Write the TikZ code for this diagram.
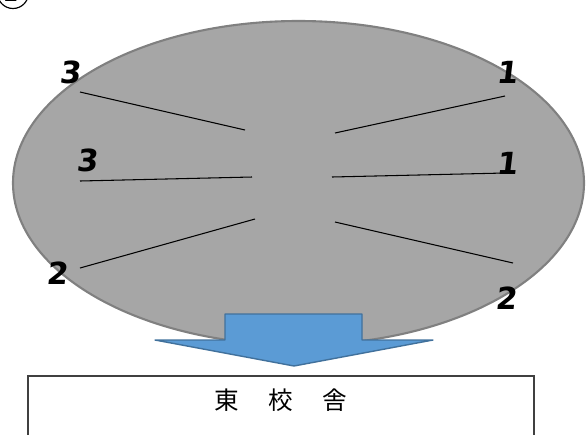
\documentclass[tikz,border=0pt]{standalone}
\usepackage{fontspec}
\newfontfamily\cjk{Noto Sans CJK JP}
\newfontfamily\numfont{DejaVu Sans}
\usetikzlibrary{calc}
\definecolor{gfill}{HTML}{A6A6A6}
\definecolor{gline}{HTML}{808080}
\definecolor{afill}{HTML}{5B9BD5}
\definecolor{aline}{HTML}{41719C}
\tikzset{
	num/.style={font=\numfont\bfseries\fontsize{26}{26}\selectfont, inner sep=0pt, xslant=0.12},
	seat/.style={black, line width=0.9pt}
}

\begin{document}
\begin{tikzpicture}[x=0.03cm, y=-0.03cm]
	\useasboundingbox (0,0) rectangle (587,434);
	\clip (0,0) rectangle (587,434);
%	circled number, cut at the top
	\draw[line width=1pt] (13,-7) circle (15.5);
	\node[name=cn, font=\numfont\bfseries\fontsize{18}{18}\selectfont, inner sep=0pt] at (11,-6) {2};
%	room
	\draw[gline, fill=gfill, line width=1.8pt] (298.5,183) ellipse (285.5 and 162);
	\node[num, name=l1] at (71,72) {3};
	\node[num, name=l2] at (88,160) {3};
	\node[num, name=l3] at (58,273) {2};
	\node[num, name=r1] at (508,72) {1};
	\node[num, name=r2] at (508,163) {1};
	\node[num, name=r3] at (507,298) {2};
	\coordinate (a1) at (80,92);  \coordinate (b1) at (245,130);
	\coordinate (a2) at (80,181); \coordinate (b2) at (252,177);
	\coordinate (a3) at (80,268); \coordinate (b3) at (255,219);
	\coordinate (c1) at (505,96);  \coordinate (d1) at (335,133);
	\coordinate (c2) at (505,173); \coordinate (d2) at (332,177);
	\coordinate (c3) at (513,263); \coordinate (d3) at (335,222);
	\foreach \i in {1,2,3}{
		\draw[seat] (a\i) -- (b\i);
		\draw[seat] (d\i) -- (c\i);
	}
%	arrow to the building
	\draw[aline, fill=afill, line width=1.2pt, line join=round]
		(225,314) -- (362,314) -- (362,340) -- (433,340) -- (294,366)
		-- (155,340) -- (225,340) -- cycle;
	\draw[black!75, line width=1pt] (28,440) -- (28,376) -- (534,376) -- (534,440);
	\node[name=bldg, font=\cjk\fontsize{21}{21}\selectfont] at (281,400) {東\hspace{1.2em}校\hspace{1.2em}舎};
\end{tikzpicture}
\end{document}
